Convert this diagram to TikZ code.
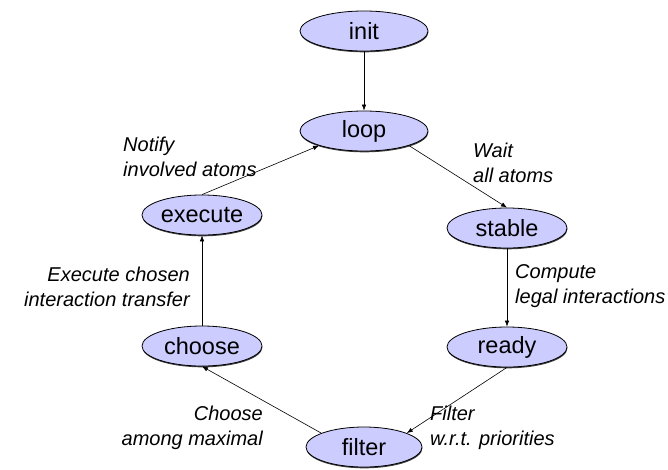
\documentclass[tikz,border=0pt]{standalone}
\usepackage{fontspec}
\setmainfont{Liberation Sans}
\usetikzlibrary{shapes.geometric,arrows.meta,shadows}
\definecolor{nodefill}{RGB}{204,204,255}
\begin{document}
\begin{tikzpicture}[x=1pt,y=-1pt,
  state/.style={ellipse, draw=black, line width=0.8pt, fill=nodefill,
    minimum width=120pt, minimum height=40pt, inner sep=0pt,
    font=\fontsize{23.5}{27}\selectfont,
    drop shadow={shadow xshift=0.4pt, shadow yshift=-1.3pt, fill=black!75, opacity=1}},
  lbl/.style={font=\fontsize{20}{25}\selectfont\itshape, inner sep=0pt},
  arr/.style={-{Latex[length=6pt,width=4.5pt]}, line width=0.6pt}]
\useasboundingbox (0,0) rectangle (668,469);

\node[state, minimum width=128pt] (init) at (364,31) {init};
\node[state, minimum width=128pt] (loop) at (364,131) {loop};
\node[state] (execute) at (202,215) {execute};
\node[state] (stable) at (507,228) {stable};
\node[state] (choose) at (202,346) {choose};
\node[state] (ready) at (507,347) {ready};
\node[state, minimum width=116pt] (filter) at (364,447) {filter};

\draw[arr] (init.south) -- (loop.north);
\draw[arr] (loop.-18) -- (stable.north);
\draw[arr] (stable.south) -- (ready.north);
\draw[arr] (ready.south) -- (filter.18);
\draw[arr] (filter.162) -- (choose.south);
\draw[arr] (choose.north) -- (execute.south);
\draw[arr] (execute.north) -- (loop.-162);

\node[lbl, anchor=base west] (lnotify) at (123,151)
  {\begin{tabular}[t]{@{}l@{}}Notify\\involved atoms\end{tabular}};
\node[lbl, anchor=base west] (lwait) at (473,157)
  {\begin{tabular}[t]{@{}l@{}}Wait\\all atoms\end{tabular}};
\node[lbl, anchor=base east] (lexec) at (190,281)
  {\begin{tabular}[t]{@{}r@{}}Execute chosen\\interaction transfer\end{tabular}};
\node[lbl, anchor=base west] (lcompute) at (515,278)
  {\begin{tabular}[t]{@{}l@{}}Compute\\legal interactions\end{tabular}};
\node[lbl, anchor=base east] (lchoose) at (263,420)
  {\begin{tabular}[t]{@{}r@{}}Choose\\among maximal\end{tabular}};
\node[lbl, anchor=base west] (lfilter) at (430,420)
  {\begin{tabular}[t]{@{}l@{}}Filter\\w.r.t. priorities\end{tabular}};
\end{tikzpicture}
\end{document}
